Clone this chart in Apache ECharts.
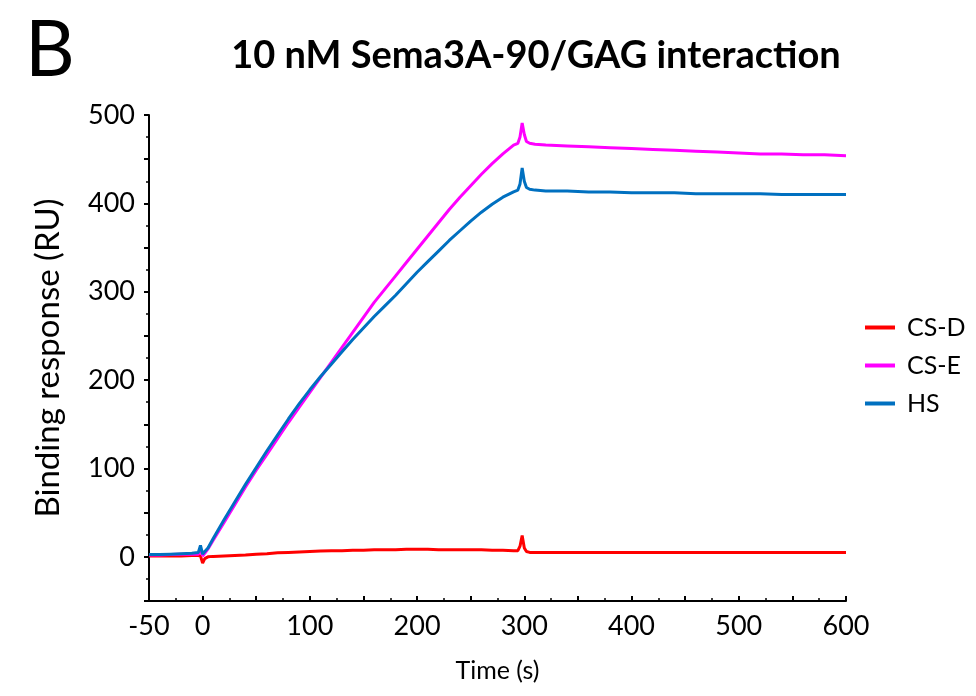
<!DOCTYPE html>
<html>
<head>
<meta charset="utf-8">
<script src="https://cdn.jsdelivr.net/npm/echarts@6/dist/echarts.min.js"></script>
<style>html,body{margin:0;padding:0;background:#fff;}#c{width:976px;height:696px;}</style>
</head>
<body>
<div id="c"></div>
<script>
const time = [-50,-40,-30,-20,-10,-4,-2,0,2,5,10,20,30,40,50,60,70,80,90,100,110,120,130,140,150,160,170,180,190,200,210,220,230,240,250,260,270,280,290,294,296,298,300,302,305,310,320,340,360,380,400,420,440,460,480,500,520,540,560,580,600];
const csD = [1,1,1,1,1.5,1.5,1,-7,-2,0,0.5,1,1.5,2,3,3.5,4.5,5,5.5,6,6.5,7,7,7.5,7.5,8,8,8,8.5,8.5,8.5,8,8,8,8,8,7.5,7.5,7,7,12,24,10,6,5,5,5,5,5,5,5,5,5,5,5,5,5,5,5,5,5];
const csE = [2,2,2.5,3,3,3,9,1,4,9,19,39,59,79,98,116,134,152,169,186,203,220,237,254,271,288,303,318,333,348,363,378,393,407,420,433,445,456,466,468,475,491,478,470,468,467,466,465,464,463,462,461,460,459,458,457,456,456,455,455,454];
const hs = [2.5,2.5,3,3.5,4,5,13,3,6,10,21,42,62,82,101,120,138,156,173,189,204,218,232,246,259,272,284,296,309,322,334,346,358,369,380,390,399,407,413,415,422,440,425,418,416,415,414,414,413,413,412,412,412,411,411,411,411,410,410,410,410];
const seriesNames = ['CS-D','CS-E','HS'];
const xTickLabels = [-50,0,100,200,300,400,500,600];
const yTickLabels = [0,100,200,300,400,500];

const zip = (a,b)=>a.map((t,i)=>[t,b[i]]);
const font = 'Lato, "Open Sans", sans-serif';
const chart = echarts.init(document.getElementById('c'));
const mk = (name, vals, color) => ({
  name, type:'line', data: zip(time, vals), symbol:'none', showSymbol:false, smooth:false,
  lineStyle:{color, width:3}, itemStyle:{color}
});
chart.setOption({
  animation:false,
  backgroundColor:'#fff',
  title:[
    {text:'B', left:20, top:8, textStyle:{fontFamily:font, fontSize:77, fontWeight:'normal', color:'#000'}},
    {text:'10 nM Sema3A-90/GAG interaction', left:531, textAlign:'center', top:32, textStyle:{fontFamily:font, fontSize:38, fontWeight:'bold', color:'#000'}}
  ],
  legend:{
    orient:'vertical', left:860, top:310, itemWidth:30, itemHeight:4, itemGap:13,
    icon:'rect',
    data: seriesNames,
    textStyle:{fontFamily:font, fontSize:25, color:'#000', padding:[0,0,0,7]}
  },
  grid:{left:149, top:115, right:130, bottom:95, containLabel:false},
  xAxis:{
    type:'value', min:-50, max:600, interval:50,
    name:'Time (s)', nameLocation:'middle', nameGap:57,
    nameTextStyle:{fontFamily:font, fontSize:25, color:'#000'},
    axisLine:{onZero:false, lineStyle:{color:'#000', width:2}},
    axisTick:{inside:true, length:5, lineStyle:{color:'#000', width:2}},
    minorTick:{show:true, splitNumber:2, length:3, lineStyle:{color:'#000', width:1.5}},
    splitLine:{show:false},
    axisLabel:{fontFamily:font, fontSize:27, color:'#000', margin:12,
      formatter:v=> xTickLabels.includes(v) ? String(v) : ''}
  },
  yAxis:{
    type:'value', min:-50, max:500, interval:50,
    name:'Binding response (RU)', nameLocation:'middle', nameGap:84, nameRotate:90,
    nameTextStyle:{fontFamily:font, fontSize:33, color:'#000'},
    axisLine:{show:true, onZero:false, lineStyle:{color:'#000', width:2}},
    axisTick:{show:true, length:5, lineStyle:{color:'#000', width:2}},
    minorTick:{show:true, splitNumber:2, length:3, lineStyle:{color:'#000', width:1.5}},
    splitLine:{show:false},
    axisLabel:{fontFamily:font, fontSize:27, color:'#000', margin:14,
      formatter:v=> yTickLabels.includes(v) ? String(v) : ''}
  },
  series:[
    mk(seriesNames[0], csD, '#FF0000'),
    mk(seriesNames[1], csE, '#FF00FF'),
    mk(seriesNames[2], hs, '#0070C0')
  ]
});
</script>
</body>
</html>
